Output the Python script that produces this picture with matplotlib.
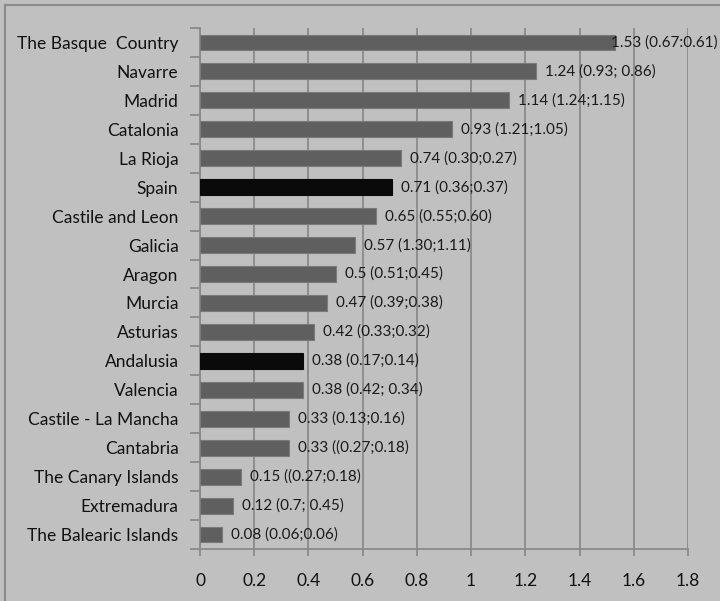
import numpy as np
import matplotlib.pyplot as plt
from matplotlib.lines import Line2D

# data, top to bottom as in the chart
regions = ['The Basque  Country', 'Navarre', 'Madrid', 'Catalonia', 'La Rioja', 'Spain',
           'Castile and Leon', 'Galicia', 'Aragon', 'Murcia', 'Asturias', 'Andalusia',
           'Valencia', 'Castile - La Mancha', 'Cantabria', 'The Canary Islands',
           'Extremadura', 'The Balearic Islands']
values = [1.53, 1.24, 1.14, 0.93, 0.74, 0.71, 0.65, 0.57, 0.5, 0.47, 0.42, 0.38,
          0.38, 0.33, 0.33, 0.15, 0.12, 0.08]
bar_labels = ['1.53 (0.67:0.61)', '1.24 (0.93; 0.86)', '1.14 (1.24;1.15)', '0.93 (1.21;1.05)',
              '0.74 (0.30;0.27)', '0.71 (0.36;0.37)', '0.65 (0.55;0.60)', '0.57 (1.30;1.11)',
              '0.5 (0.51;0.45)', '0.47 (0.39;0.38)', '0.42 (0.33;0.32)', '0.38 (0.17;0.14)',
              '0.38 (0.42; 0.34)', '0.33 (0.13;0.16)', '0.33 ((0.27;0.18)', '0.15 ((0.27;0.18)',
              '0.12 (0.7; 0.45)', '0.08 (0.06;0.06)']
highlight = ['Spain', 'Andalusia']
x_ticks = [0, 0.2, 0.4, 0.6, 0.8, 1, 1.2, 1.4, 1.6, 1.8]
x_tick_labels = ['0', '0.2', '0.4', '0.6', '0.8', '1', '1.2', '1.4', '1.6', '1.8']

plt.rcParams['font.family'] = ['Lato', 'DejaVu Sans']

bg = '#c0c0c0'
grid_col = '#8a8a8a'

fig = plt.figure(figsize=(7.2, 6.01), dpi=100, facecolor=bg)
ax = fig.add_axes([200 / 720, 1 - 549 / 601, 488 / 720, 521 / 601])
ax.set_facecolor(bg)

# outer frame (top and left edges visible)
fig.add_artist(Line2D([5 / 720, 1], [1 - 5 / 601, 1 - 5 / 601], transform=fig.transFigure,
                      color='#8a8a8a', lw=1.5))
fig.add_artist(Line2D([5 / 720, 5 / 720], [0, 1 - 5 / 601], transform=fig.transFigure,
                      color='#8a8a8a', lw=1.5))

pos = np.arange(len(regions))
colours = ['#0a0a0a' if r in highlight else '#5f5f5f' for r in regions]
edges = ['#0a0a0a' if r in highlight else '#7a7a7a' for r in regions]
bars = ax.barh(pos, values, height=0.55, color=colours, edgecolor=edges, linewidth=0.8, zorder=3)

ax.set_xlim(0, 1.8)
ax.set_ylim(len(regions) - 0.5, -0.5)

ax.set_xticks(x_ticks)
ax.set_xticklabels(x_tick_labels, fontsize=12.5, color='#111111')
ax.tick_params(axis='x', length=5, width=1.3, color=grid_col, pad=12)
ax.xaxis.grid(True, color=grid_col, lw=1.3, zorder=0)

# y ticks between categories, labels centred on bars
ax.set_yticks(np.arange(len(regions) + 1) - 0.5)
ax.set_yticklabels([])
ax.set_yticks(pos, minor=True)
ax.set_yticklabels(regions, minor=True, fontsize=12.5, color='#111111')
ax.tick_params(axis='y', which='major', length=7, width=1.3, color=grid_col)
ax.tick_params(axis='y', which='minor', length=0, pad=15.5)

for s in ['top', 'right']:
    ax.spines[s].set_visible(False)
for s in ['left', 'bottom']:
    ax.spines[s].set_color(grid_col)
    ax.spines[s].set_linewidth(1.3)

# value labels at the bar ends
fig.canvas.draw()
renderer = fig.canvas.get_renderer()
for rect, lab in zip(bars, bar_labels):
    t = ax.annotate(lab, (rect.get_width(), rect.get_y() + rect.get_height() / 2),
                    xytext=(9, 0), textcoords='offset pixels', ha='left', va='center',
                    fontsize=11, color='#1a1a1a', zorder=4, annotation_clip=False)
    bb = t.get_window_extent(renderer)
    if bb.x1 > 718:
        t.set_position((718 - bb.x1 + 9, 0))

fig.savefig('out.png', dpi=100, facecolor=bg)
